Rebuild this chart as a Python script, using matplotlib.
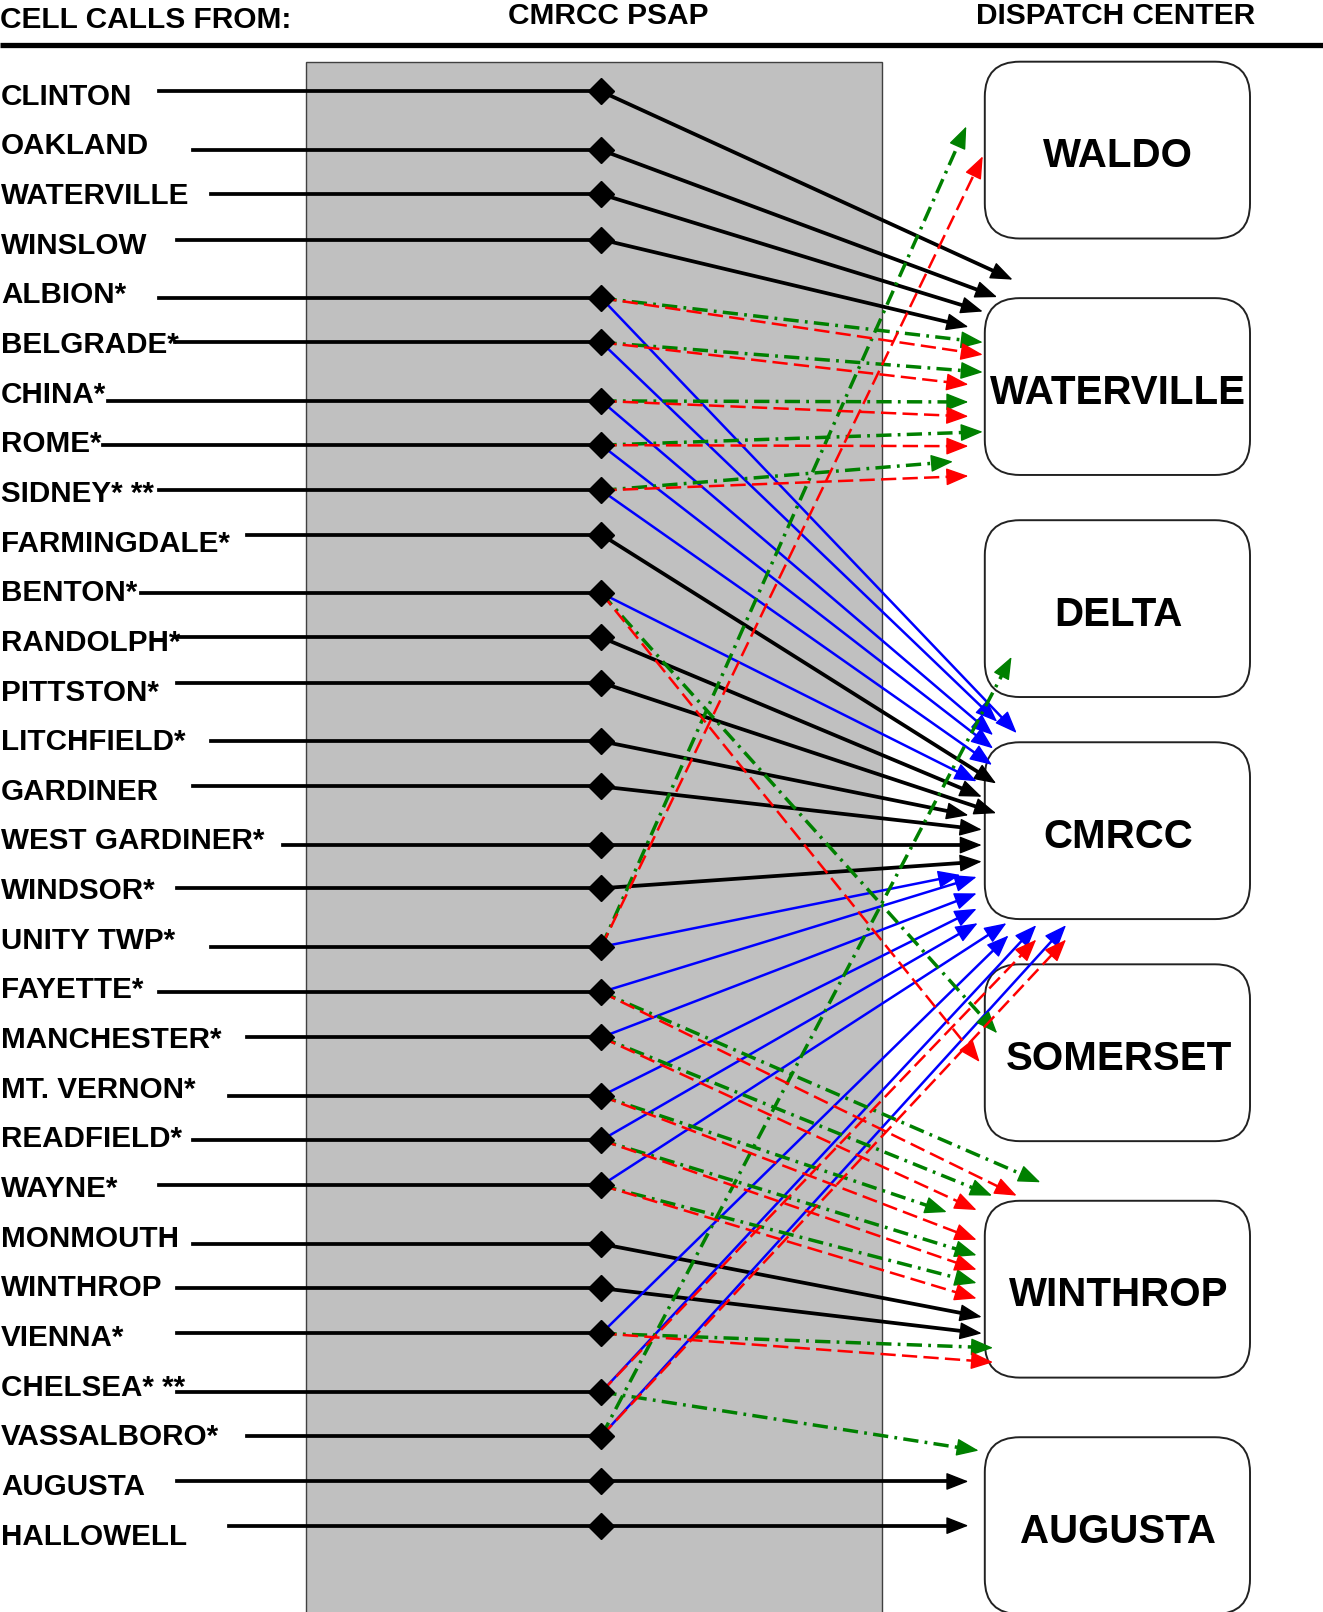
import matplotlib
matplotlib.use("Agg")
import numpy as np
import matplotlib.pyplot as plt
from matplotlib.patches import FancyBboxPatch, Rectangle, FancyArrowPatch

plt.rcParams["font.family"] = ["Liberation Sans", "DejaVu Sans"]
plt.rcParams["lines.scale_dashes"] = False

# drawing units (figure is 1323x1612 px)
W, H = 1287, 1568

TOWNS = ["CLINTON", "OAKLAND", "WATERVILLE", "WINSLOW", "ALBION*", "BELGRADE*",
         "CHINA*", "ROME*", "SIDNEY* **", "FARMINGDALE*", "BENTON*", "RANDOLPH*",
         "PITTSTON*", "LITCHFIELD*", "GARDINER", "WEST GARDINER*", "WINDSOR*",
         "UNITY TWP*", "FAYETTE*", "MANCHESTER*", "MT. VERNON*", "READFIELD*",
         "WAYNE*", "MONMOUTH", "WINTHROP", "VIENNA*", "CHELSEA* **", "VASSALBORO*",
         "AUGUSTA", "HALLOWELL"]
ROW_Y = [89, 146, 189, 233, 290, 333, 390, 433, 477, 520, 577, 620, 664, 721, 765,
         822, 864, 921, 965, 1009, 1066, 1109, 1153, 1210, 1253, 1297, 1354, 1397,
         1441, 1484]
LEAD_X = [155, 188, 205, 172, 155, 170, 105, 100, 155, 240, 137, 170, 172, 205, 188,
          275, 172, 205, 155, 240, 223, 188, 155, 188, 172, 172, 172, 240, 172, 223]

CENTERS = ["WALDO", "WATERVILLE", "DELTA", "CMRCC", "SOMERSET", "WINTHROP", "AUGUSTA"]
CENTER_TOP = [60, 290, 506, 722, 938, 1168, 1398]

# town -> arrow tip at the dispatch center
BLACK_LINKS = [("CLINTON", 985, 272), ("OAKLAND", 970, 289), ("WATERVILLE", 956, 303),
               ("WINSLOW", 942, 318), ("FARMINGDALE*", 969, 762), ("RANDOLPH*", 955, 775),
               ("PITTSTON*", 969, 791), ("LITCHFIELD*", 942, 793), ("GARDINER", 955, 807),
               ("WEST GARDINER*", 955, 822), ("WINDSOR*", 955, 838), ("MONMOUTH", 955, 1281),
               ("WINTHROP", 955, 1297), ("AUGUSTA", 942, 1441), ("HALLOWELL", 942, 1484)]
BLUE_LINKS = [("ALBION*", 989, 713), ("BELGRADE*", 970, 702), ("CHINA*", 966, 715),
              ("ROME*", 966, 728), ("SIDNEY* **", 965, 744), ("BENTON*", 950, 760),
              ("UNITY TWP*", 934, 851), ("FAYETTE*", 950, 853), ("MANCHESTER*", 950, 869),
              ("MT. VERNON*", 950, 884), ("READFIELD*", 951, 898), ("WAYNE*", 979, 898),
              ("VIENNA*", 981, 910), ("CHELSEA* **", 1008, 900), ("VASSALBORO*", 1037, 900)]
RED_LINKS = [("ALBION*", 956, 345), ("BELGRADE*", 942, 374), ("CHINA*", 942, 405),
             ("ROME*", 942, 434), ("SIDNEY* **", 942, 463), ("BENTON*", 953, 1033),
             ("UNITY TWP*", 956, 152), ("FAYETTE*", 989, 1163), ("MANCHESTER*", 950, 1177),
             ("MT. VERNON*", 950, 1206), ("READFIELD*", 950, 1235), ("WAYNE*", 950, 1263),
             ("VIENNA*", 966, 1325), ("CHELSEA* **", 1008, 914), ("VASSALBORO*", 1037, 914)]
GREEN_LINKS = [("ALBION*", 956, 333), ("BELGRADE*", 956, 362), ("CHINA*", 942, 391),
               ("ROME*", 956, 420), ("SIDNEY* **", 927, 449), ("BENTON*", 970, 1005),
               ("UNITY TWP*", 940, 123), ("FAYETTE*", 1012, 1150), ("MANCHESTER*", 965, 1163),
               ("MT. VERNON*", 921, 1179), ("READFIELD*", 950, 1221), ("WAYNE*", 950, 1248),
               ("VIENNA*", 966, 1311), ("CHELSEA* **", 952, 1411), ("VASSALBORO*", 984, 639)]

NODE_X = 585
BOX_X, BOX_W, BOX_H = 958, 258, 172

STYLES = {
    "black": dict(color="black", lw=2.7, ls="-"),
    "blue": dict(color="#0000ff", lw=1.8, ls="-"),
    "red": dict(color="#ff0000", lw=1.8, ls=(0, (11, 4.5))),
    "green": dict(color="#008000", lw=2.5, ls=(0, (11, 4.5, 2, 4.5))),
}

fig = plt.figure(figsize=(13.23, 16.12), dpi=100)
ax = fig.add_axes([0, 0, 1, 1])
ax.set_xlim(0, W)
ax.set_ylim(H, 0)
ax.axis("off")

# header
ax.text(0, 19, "CELL CALLS FROM:", fontsize=21.5, fontweight="bold", va="center", ha="left")
ax.text(592, 16, "CMRCC PSAP", fontsize=21.5, fontweight="bold", va="center", ha="center")
ax.text(1085, 16, "DISPATCH CENTER", fontsize=21.5, fontweight="bold", va="center", ha="center")
ax.plot([0, W], [44, 44], color="black", lw=3.8, solid_capstyle="butt")

# PSAP band
ax.add_patch(Rectangle((298, 60), 560, H, fc="#c0c0c0", ec="#404040", lw=1, zorder=0))

# dispatch center boxes
for name, top in zip(CENTERS, CENTER_TOP):
    ax.add_patch(FancyBboxPatch((BOX_X, top), BOX_W, BOX_H,
                                boxstyle="round,pad=0,rounding_size=34",
                                fc="white", ec="#222222", lw=1.4, zorder=1))
    ax.text(BOX_X + BOX_W / 2 + 1, top + BOX_H / 2 + 6, name, fontsize=29,
            fontweight="bold", ha="center", va="center", zorder=6)

# town labels and lead lines
for i, (town, y, lx) in enumerate(zip(TOWNS, ROW_Y, LEAD_X)):
    ax.text(1, 94 + 48.3 * i, town, fontsize=21.3, fontweight="bold",
            ha="left", va="center", zorder=6)
    ax.plot([lx, NODE_X], [y, y], color="black", lw=2.7, zorder=3)

row_of = dict(zip(TOWNS, ROW_Y))


def draw_link(town, tx, ty, kind, z):
    st = STYLES[kind]
    x0, y0 = NODE_X, row_of[town]
    d = np.array([tx - x0, ty - y0], dtype=float)
    u = d / np.hypot(*d)
    bx, by = np.array([tx, ty]) - u * 14
    ax.plot([x0, bx], [y0, by], color=st["color"], lw=st["lw"], ls=st["ls"],
            zorder=z, solid_capstyle="butt", dash_capstyle="butt")
    sx, sy = np.array([tx, ty]) - u * 18
    ax.add_patch(FancyArrowPatch((sx, sy), (tx, ty),
                                 arrowstyle="-|>,head_length=14,head_width=5.5",
                                 mutation_scale=1, color=st["color"], lw=1,
                                 shrinkA=0, shrinkB=0, zorder=z))


for town, tx, ty in BLACK_LINKS:
    draw_link(town, tx, ty, "black", 3)
for town, tx, ty in BLUE_LINKS:
    draw_link(town, tx, ty, "blue", 3.2)
for town, tx, ty in GREEN_LINKS:
    draw_link(town, tx, ty, "green", 3.4)
for town, tx, ty in RED_LINKS:
    draw_link(town, tx, ty, "red", 3.6)

ax.plot([NODE_X] * len(ROW_Y), ROW_Y, ls="none", marker="D", ms=13,
        color="black", zorder=5)

fig.savefig("out.png", dpi=100)
